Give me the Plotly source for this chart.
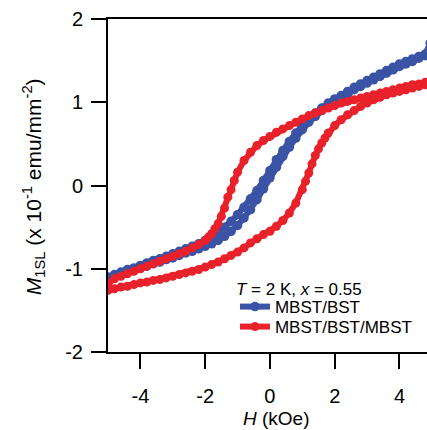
import plotly.graph_objects as go

# Red loop: MBST/BST/MBST (descending branch then ascending branch)
red_x_down = [5.0, 4.8, 4.6, 4.4, 4.2, 4.0, 3.8, 3.6, 3.4, 3.2, 3.0, 2.8, 2.6, 2.4, 2.2, 2.0, 1.8, 1.6, 1.4, 1.2,
              1.0, 0.8, 0.6, 0.4, 0.2, 0.0, -0.2, -0.4, -0.6, -0.8, -1.0, -1.1, -1.2, -1.3, -1.4, -1.5, -1.6, -1.7,
              -1.8, -1.9, -2.0, -2.2, -2.4, -2.6, -2.8, -3.0, -3.2, -3.4, -3.6, -3.8, -4.0, -4.2, -4.4, -4.6, -4.8, -5.0]
red_y_down = [1.25, 1.24, 1.22, 1.21, 1.19, 1.17, 1.15, 1.13, 1.11, 1.09, 1.07, 1.05, 1.03, 1.01, 0.99, 0.96, 0.93,
              0.90, 0.87, 0.84, 0.80, 0.76, 0.72, 0.68, 0.64, 0.59, 0.54, 0.48, 0.40, 0.30, 0.16, 0.06, -0.05, -0.14,
              -0.27, -0.37, -0.46, -0.52, -0.58, -0.62, -0.66, -0.71, -0.75, -0.79, -0.82, -0.85, -0.88, -0.91, -0.94,
              -0.97, -1.00, -1.03, -1.06, -1.09, -1.12, -1.18]
red_x_up = [-5.0, -4.8, -4.6, -4.4, -4.2, -4.0, -3.8, -3.6, -3.4, -3.2, -3.0, -2.8, -2.6, -2.4, -2.2, -2.0, -1.8, -1.6,
            -1.4, -1.2, -1.0, -0.8, -0.6, -0.4, -0.2, 0.0, 0.2, 0.4, 0.6, 0.8, 1.0, 1.1, 1.2, 1.3, 1.4, 1.5, 1.6, 1.7,
            1.8, 2.0, 2.2, 2.4, 2.6, 2.8, 3.0, 3.2, 3.4, 3.6, 3.8, 4.0, 4.2, 4.4, 4.6, 4.8, 5.0]
red_y_up = [-1.26, -1.24, -1.22, -1.21, -1.19, -1.17, -1.16, -1.14, -1.13, -1.11, -1.09, -1.07, -1.05, -1.03, -1.01,
            -0.98, -0.95, -0.92, -0.88, -0.84, -0.80, -0.75, -0.69, -0.64, -0.59, -0.55, -0.49, -0.42, -0.33, -0.21,
            -0.05, 0.05, 0.15, 0.26, 0.36, 0.44, 0.51, 0.57, 0.63, 0.72, 0.79, 0.85, 0.90, 0.95, 0.99, 1.03, 1.06,
            1.09, 1.11, 1.13, 1.15, 1.17, 1.19, 1.21, 1.24]

# Blue loop: MBST/BST
blue_x_down = [4.95, 4.8, 4.6, 4.4, 4.2, 4.0, 3.8, 3.6, 3.4, 3.2, 3.0, 2.8, 2.6, 2.4, 2.2, 2.0, 1.8, 1.6, 1.4, 1.2,
               1.0, 0.8, 0.6, 0.4, 0.2, 0.0, -0.2, -0.4, -0.6, -0.8, -1.0, -1.2, -1.4, -1.6, -1.8, -2.0, -2.2, -2.4,
               -2.6, -2.8, -3.0, -3.2, -3.4, -3.6, -3.8, -4.0, -4.2, -4.4, -4.6, -4.8, -5.0]
blue_y_down = [1.71, 1.58, 1.55, 1.52, 1.49, 1.46, 1.42, 1.38, 1.34, 1.30, 1.26, 1.22, 1.18, 1.13, 1.08, 1.04, 0.99,
               0.93, 0.87, 0.80, 0.72, 0.63, 0.53, 0.42, 0.31, 0.18, 0.06, -0.06, -0.16, -0.26, -0.35, -0.43, -0.50,
               -0.57, -0.62, -0.66, -0.70, -0.73, -0.76, -0.79, -0.82, -0.85, -0.88, -0.90, -0.93, -0.96, -0.99,
               -1.01, -1.04, -1.07, -1.10]
blue_x_up = [-5.0, -4.8, -4.6, -4.4, -4.2, -4.0, -3.8, -3.6, -3.4, -3.2, -3.0, -2.8, -2.6, -2.4, -2.2, -2.0, -1.8,
             -1.6, -1.4, -1.2, -1.0, -0.8, -0.6, -0.4, -0.2, 0.0, 0.2, 0.4, 0.6, 0.8, 1.0, 1.2, 1.4, 1.6, 1.8, 2.0,
             2.2, 2.4, 2.6, 2.8, 3.0, 3.2, 3.4, 3.6, 3.8, 4.0, 4.2, 4.4, 4.6, 4.8, 5.0]
blue_y_up = [-1.12, -1.09, -1.07, -1.04, -1.02, -0.99, -0.97, -0.94, -0.92, -0.89, -0.87, -0.84, -0.81, -0.79, -0.76,
             -0.73, -0.70, -0.66, -0.61, -0.55, -0.48, -0.39, -0.29, -0.17, -0.04, 0.09, 0.22, 0.35, 0.46, 0.57,
             0.67, 0.76, 0.83, 0.90, 0.96, 1.01, 1.06, 1.10, 1.15, 1.19, 1.23, 1.27, 1.31, 1.35, 1.39, 1.43, 1.46,
             1.49, 1.53, 1.56, 1.60]

x_ticks = [-4, -2, 0, 2, 4]
y_ticks = [-2, -1, 0, 1, 2]
series_names = ["MBST/BST", "MBST/BST/MBST"]
legend_title = "<i>T</i> = 2 K, <i>x</i> = 0.55"

BLUE = "#3a53a4"
RED = "#e8212b"
FONT = "Liberation Sans, Arial, sans-serif"

fig = go.Figure()
fig.add_trace(go.Scatter(
    x=blue_x_down + blue_x_up, y=blue_y_down + blue_y_up, mode="lines+markers", name=series_names[0],
    line=dict(color=BLUE, width=6), marker=dict(color=BLUE, size=9.5), legend="legend"))
fig.add_trace(go.Scatter(
    x=red_x_down + red_x_up, y=red_y_down + red_y_up, mode="lines+markers", name=series_names[1],
    line=dict(color=RED, width=6), marker=dict(color=RED, size=9), legend="legend2"))

axis_common = dict(showgrid=False, zeroline=False, showline=True, linecolor="black", linewidth=2,
                   ticks="outside", ticklen=15, tickwidth=2, tickcolor="black",
                   tickfont=dict(family=FONT, size=20, color="black"))
fig.update_xaxes(range=[-5.0, 4.85], tickvals=x_ticks, ticktext=[str(v) for v in x_ticks], mirror=True,
                 ticklabelstandoff=10, **axis_common)
fig.update_yaxes(range=[-2, 2], tickvals=y_ticks, ticktext=[str(v) for v in y_ticks],
                 ticklabelstandoff=4, **axis_common)

legend_common = dict(xanchor="left", yanchor="middle", bgcolor="rgba(0,0,0,0)",
                     font=dict(family=FONT, size=17, color="black"), itemwidth=30)
fig.update_layout(
    width=427, height=430, margin=dict(l=108, r=0, t=19, b=78),
    plot_bgcolor="white", paper_bgcolor="white",
    font=dict(family=FONT, color="black"),
    showlegend=True,
    legend=dict(x=0.398, y=0.135, **legend_common),
    legend2=dict(x=0.398, y=0.075, **legend_common),
    annotations=[
        dict(text=legend_title, xref="paper", yref="paper", x=0.395, y=0.189, xanchor="left",
             yanchor="middle", showarrow=False, font=dict(family=FONT, size=17, color="black")),
        dict(text="<i>H</i> (kOe)", xref="paper", yref="paper", x=0.527, y=-0.200, xanchor="center",
             yanchor="middle", showarrow=False, font=dict(family=FONT, size=19, color="black")),
        dict(text="<i>M</i><sub>1SL</sub> (x 10<sup>-1</sup> emu/mm<sup>-2</sup>)", xref="paper", yref="paper",
             x=-0.235, y=0.495, xanchor="center", yanchor="middle", textangle=-90, showarrow=False,
             font=dict(family=FONT, size=21, color="black")),
    ],
)

fig.write_html("out.html", config={"displayModeBar": False},
               post_script="document.body.style.margin='0';document.body.style.overflow='hidden';")
